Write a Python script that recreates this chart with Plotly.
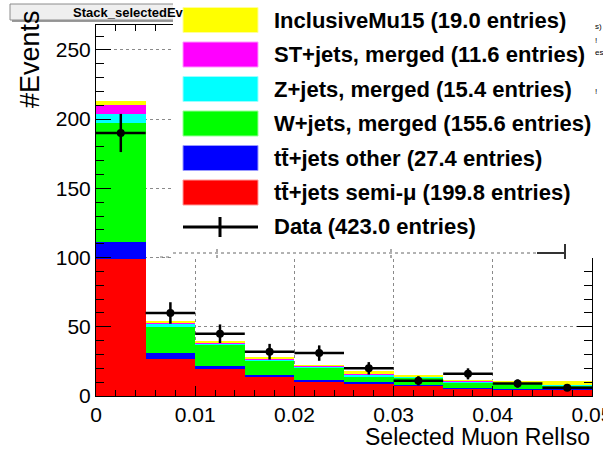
import numpy as np
import plotly.graph_objects as go

# ---------------- data ----------------
bin_edges = [0.0, 0.005, 0.01, 0.015, 0.02, 0.025, 0.03, 0.035, 0.04, 0.045, 0.05]
ttbar_semimu = [99.0, 26.7, 19.3, 13.5, 10.1, 9.0, 7.0, 5.2, 4.5, 4.2]
ttbar_other = [12.4, 4.1, 2.4, 1.7, 1.5, 1.4, 1.0, 0.9, 0.8, 0.7]
wjets = [85.5, 19.2, 14.9, 10.1, 8.4, 3.5, 4.8, 3.5, 3.2, 2.5]
zjets = [7.1, 1.8, 0.9, 0.7, 1.0, 1.3, 0.9, 0.8, 0.6, 0.5]
stjets = [6.3, 1.1, 0.8, 0.7, 0.7, 0.4, 0.3, 0.6, 0.3, 0.3]
inclmu15 = [2.9, 1.3, 1.2, 1.5, 1.0, 2.6, 1.5, 0.3, 1.4, 2.6]
data_counts = [190, 60, 45, 32, 31, 20, 11, 16, 9, 6]

legend_labels = [
    "InclusiveMu15 (19.0 entries)",
    "ST+jets, merged (11.6 entries)",
    "Z+jets, merged (15.4 entries)",
    "W+jets, merged (155.6 entries)",
    "tt\u0304+jets other (27.4 entries)",
    "tt\u0304+jets semi-\u03bc (199.8 entries)",
    "Data (423.0 entries)",
]
x_tick_vals = [0, 0.01, 0.02, 0.03, 0.04, 0.05]
x_tick_text = ["0", "0.01", "0.02", "0.03", "0.04", "0.05"]

# ---------------- figure ----------------
W, H = 603, 449
L, R, T, B = 96, 11, 25, 53
PW, PH = W - L - R, H - T - B


def px(x):
    return (x - L) / PW


def py(y):
    return (H - B - y) / PH


edges = np.array(bin_edges)
centers = (edges[:-1] + edges[1:]) / 2
widths = edges[1:] - edges[:-1]

stack = [
    (ttbar_semimu, "#ff0000"),
    (ttbar_other, "#0000ff"),
    (wjets, "#00ff00"),
    (zjets, "#00ffff"),
    (stjets, "#ff00ff"),
    (inclmu15, "#ffff00"),
]

fig = go.Figure()
for vals, col in stack:
    fig.add_trace(go.Bar(x=centers, y=vals, width=widths,
                         marker=dict(color=col, line=dict(width=0)),
                         showlegend=False, hoverinfo="skip"))

fig.add_trace(go.Scatter(
    x=centers, y=data_counts, mode="markers",
    marker=dict(color="black", size=8),
    error_x=dict(type="data", array=widths / 2, width=0, thickness=2.5, color="black"),
    error_y=dict(type="data", array=np.sqrt(data_counts), width=0, thickness=2.5, color="black"),
    showlegend=False, cliponaxis=False))

axis_font = dict(family="Liberation Sans, Arial, sans-serif", size=21, color="black")

fig.update_layout(
    width=W, height=H, margin=dict(l=L, r=R, t=T, b=B, pad=0, autoexpand=False),
    paper_bgcolor="white", plot_bgcolor="white",
    barmode="stack", bargap=0, showlegend=False,
    xaxis=dict(range=[0, 0.05], tickvals=x_tick_vals, ticktext=x_tick_text,
               ticks="inside", ticklen=10, tickwidth=1, tickcolor="black",
               showline=True, linecolor="black", linewidth=1, mirror="ticks",
               showgrid=True, gridcolor="#8a8a8a", griddash="dot", gridwidth=1,
               zeroline=False, tickfont=axis_font, layer="above traces",
               automargin=False, ticklabeloverflow="allow",
               minor=dict(dtick=0.002, tick0=0, ticks="inside", ticklen=6,
                          tickcolor="black", showgrid=False)),
    yaxis=dict(range=[0, 268], tick0=0, dtick=50,
               ticks="inside", ticklen=15, tickwidth=1, tickcolor="black",
               showline=True, linecolor="black", linewidth=1, mirror="ticks",
               showgrid=True, gridcolor="#8a8a8a", griddash="dot", gridwidth=1,
               zeroline=False, tickfont=axis_font, layer="above traces",
               automargin=False, ticklabeloverflow="allow",
               minor=dict(dtick=10, tick0=0, ticks="inside", ticklen=8,
                          tickcolor="black", showgrid=False)),
)

shapes = []
annotations = []

# title box (ROOT pave)
shapes.append(dict(type="rect", xref="paper", yref="paper",
                   x0=px(12), x1=px(420), y0=py(22), y1=py(6),
                   fillcolor="#9a9a9a", line=dict(width=0)))
shapes.append(dict(type="rect", xref="paper", yref="paper",
                   x0=px(10), x1=px(418), y0=py(20), y1=py(4),
                   fillcolor="#efefef", line=dict(color="#8c8c8c", width=1)))
annotations.append(dict(text="<b>Stack_selectedEv</b>", xref="paper", yref="paper",
                        x=px(71), y=py(12.5), xanchor="left", yanchor="middle",
                        showarrow=False,
                        font=dict(family="Liberation Sans, Arial", size=13, color="black")))

# legend background
shapes.append(dict(type="rect", xref="paper", yref="paper",
                   x0=px(173), x1=px(615), y0=py(258), y1=py(-5),
                   fillcolor="white", line=dict(width=0)))

rows_y = [20, 54.5, 89, 123.5, 158, 192.5, 227]
legend_colors = ["#ffff00", "#ff00ff", "#00ffff", "#00ff00", "#0000ff", "#ff0000"]
light = ["#ffff99", "#ff99ff", "#99ffff", "#99ff99", "#9999ff", "#ff9999"]
for yc, col, lc in zip(rows_y[:6], legend_colors, light):
    shapes.append(dict(type="rect", xref="paper", yref="paper",
                       x0=px(183), x1=px(258), y0=py(yc + 12.5), y1=py(yc - 12.5),
                       fillcolor=col, line=dict(color=lc, width=1)))
# data legend marker
yd = rows_y[6]
shapes.append(dict(type="line", xref="paper", yref="paper",
                   x0=px(183), x1=px(258), y0=py(yd), y1=py(yd),
                   line=dict(color="black", width=3)))
shapes.append(dict(type="line", xref="paper", yref="paper",
                   x0=px(220), x1=px(220), y0=py(yd + 10), y1=py(yd - 10),
                   line=dict(color="black", width=3)))

leg_font = dict(family="Liberation Sans, Arial", size=22, color="black", weight="bold")
for yc, lab in zip(rows_y, legend_labels):
    annotations.append(dict(text=lab, xref="paper", yref="paper",
                            x=px(272), y=py(yc), xanchor="left", yanchor="middle",
                            showarrow=False, font=leg_font))

# ghost elements of an overlapping pad
shapes.append(dict(type="line", xref="paper", yref="paper",
                   x0=px(160), x1=px(171), y0=py(257), y1=py(257),
                   line=dict(color="#777", width=1, dash="dot")))
shapes.append(dict(type="line", xref="paper", yref="paper",
                   x0=px(173), x1=px(537), y0=py(253), y1=py(253),
                   line=dict(color="#666", width=1, dash="dot")))
shapes.append(dict(type="line", xref="paper", yref="paper",
                   x0=px(537), x1=px(565), y0=py(253), y1=py(253),
                   line=dict(color="#333", width=2)))
shapes.append(dict(type="line", xref="paper", yref="paper",
                   x0=px(565), x1=px(565), y0=py(259), y1=py(244),
                   line=dict(color="#333", width=2)))
for gx in [217, 391]:
    shapes.append(dict(type="line", xref="paper", yref="paper",
                       x0=px(gx), x1=px(gx), y0=py(258), y1=py(248),
                       line=dict(color="#555", width=1, dash="dot")))
for gy, t in [(26, "s)"), (41, "!"), (53, "es"), (91, "!")]:
    annotations.append(dict(text=t, xref="paper", yref="paper",
                            x=px(593), y=py(gy), xanchor="left", yanchor="middle",
                            showarrow=False,
                            font=dict(family="Liberation Sans", size=8, color="black")))

# axis titles
annotations.append(dict(text="#Events", xref="paper", yref="paper",
                        x=px(30), y=py(8), xanchor="center", yanchor="top",
                        textangle=-90, showarrow=False,
                        font=dict(family="Liberation Sans, Arial", size=27, color="black")))
annotations.append(dict(text="Selected Muon RelIso", xref="paper", yref="paper",
                        x=px(592), y=py(437), xanchor="right", yanchor="middle",
                        showarrow=False,
                        font=dict(family="Liberation Sans, Arial", size=23, color="black")))

fig.update_layout(shapes=shapes, annotations=annotations)
fig.write_html("out.html", config={"displayModeBar": False, "staticPlot": True},
               post_script="document.body.style.margin='0';document.body.style.overflow='hidden';")
